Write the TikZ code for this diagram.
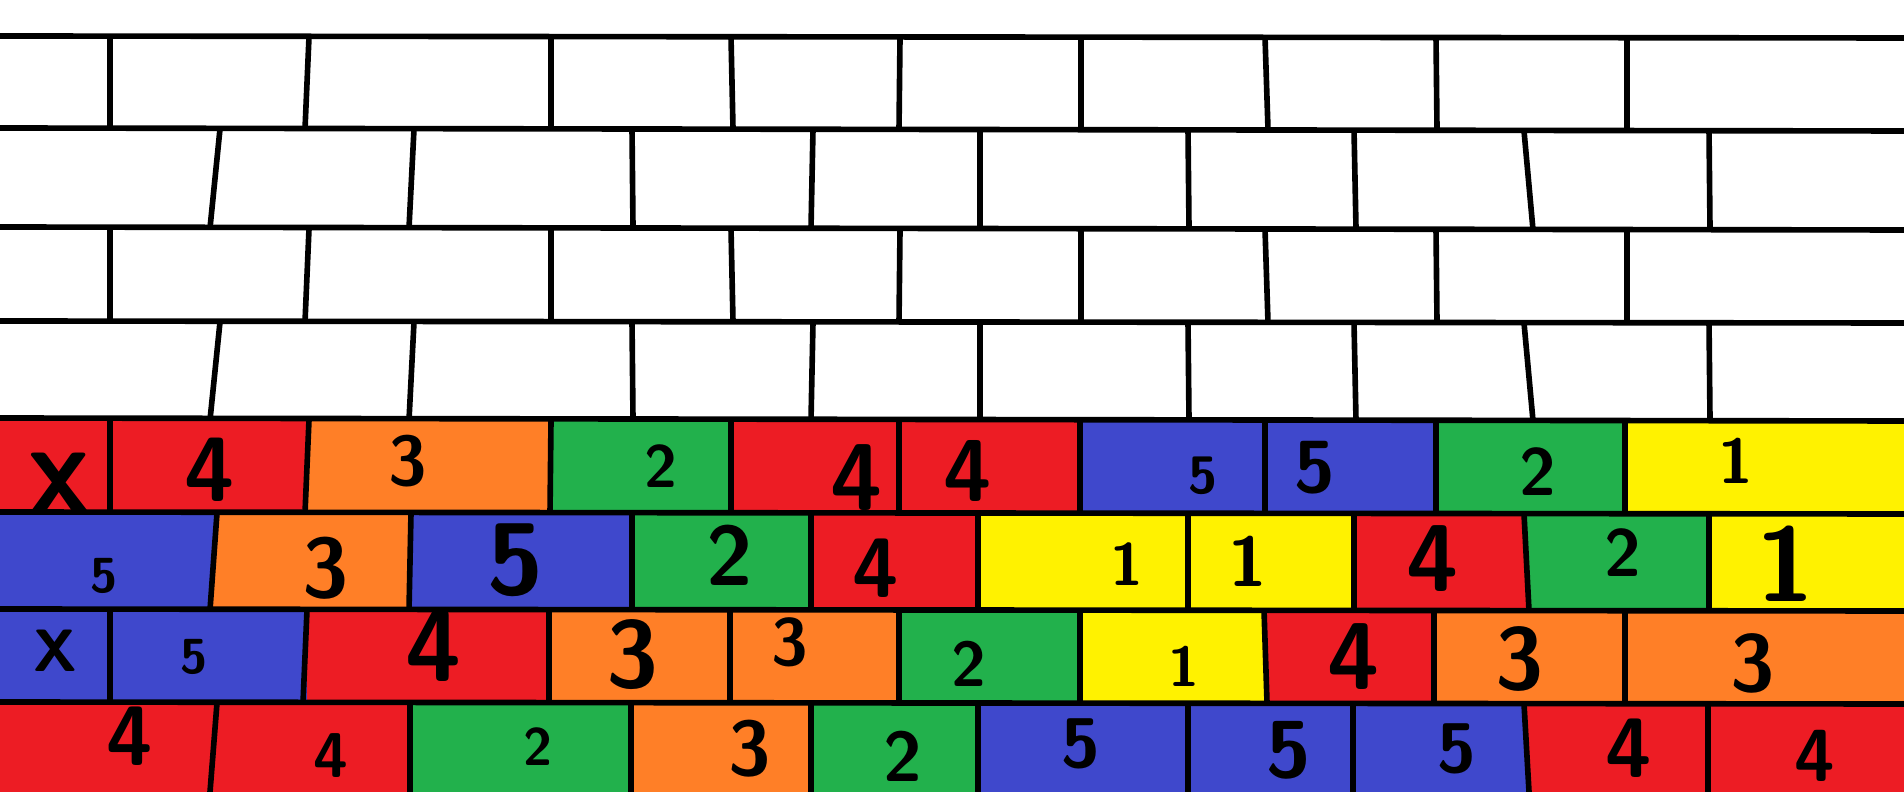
\documentclass[tikz,border=0pt]{standalone}
\usepackage{xcolor}
\usepackage{tikz}

\definecolor{bred}{HTML}{ED1C24}
\definecolor{borange}{HTML}{FF7F27}
\definecolor{bgreen}{HTML}{22B14C}
\definecolor{bblue}{HTML}{3F48CC}
\definecolor{byellow}{HTML}{FFF200}

\begin{document}
\begin{tikzpicture}[x=0.01cm, y=-0.01cm,
  mortar/.style={line width=1.6pt, black},
  num/.style={inner sep=0pt, font={\sffamily\bfseries\fontsize{#1}{#1}\selectfont}}]
  \useasboundingbox (0,0) rectangle (1904,792);

  % Row 5 (first coloured row)
  \fill[bred]    (0,419) rectangle (110,513);     \node[num=26] (b5-1) at (60,485) {X};
  \fill[bred]    (110,419) rectangle (307,513);   \node[num=26] (b5-2) at (210,470) {4};
  \fill[borange] (307,419) rectangle (551,513);   \node[num=20] (b5-3) at (408,461) {3};
  \fill[bgreen]  (551,419) rectangle (732,513);   \node[num=17] (b5-4) at (661,466) {2};
  \fill[bred]    (732,419) rectangle (900,513);   \node[num=27] (b5-5) at (857,478) {4};
  \fill[bred]    (900,419) rectangle (1081,513);  \node[num=25] (b5-6) at (968,471) {4};
  \fill[bblue]   (1081,419) rectangle (1266,513); \node[num=15] (b5-7) at (1203,476) {5};
  \fill[bblue]   (1266,419) rectangle (1436,513); \node[num=21] (b5-8) at (1315,468) {5};
  \fill[bgreen]  (1436,419) rectangle (1627,513); \node[num=19] (b5-9) at (1538,472) {2};
  \fill[byellow] (1627,419) rectangle (1904,513); \node[num=18] (b5-10) at (1736,461) {1};

  % Row 6
  \fill[bblue]   (0,513) -- (218,513) -- (210,610) -- (0,610) -- cycle;       \node[num=14] (b6-1) at (104,576) {5};
  \fill[borange] (218,513) -- (411,513) -- (411,610) -- (210,610) -- cycle;   \node[num=24] (b6-2) at (326,568) {3};
  \fill[bblue]   (411,513) rectangle (632,610);   \node[num=29] (b6-3) at (516,560) {5};
  \fill[bgreen]  (632,513) rectangle (812,610);   \node[num=24] (b6-4) at (730,555) {2};
  \fill[bred]    (812,513) rectangle (980,610);   \node[num=24] (b6-5) at (876,568) {4};
  \fill[byellow] (980,513) rectangle (1188,610);  \node[num=17] (b6-6) at (1127,564) {1};
  \fill[byellow] (1188,513) rectangle (1355,610); \node[num=20] (b6-7) at (1248,561) {1};
  \fill[bred]    (1355,513) rectangle (1527,610); \node[num=27] (b6-8) at (1433,559) {4};
  \fill[bgreen]  (1527,513) rectangle (1710,610); \node[num=19] (b6-9) at (1623,553) {2};
  \fill[byellow] (1710,513) rectangle (1904,610); \node[num=30] (b6-10) at (1785,564) {1};

  % Row 7
  \fill[bblue]   (0,610) rectangle (110,703);     \node[num=17] (b7-1) at (55,651) {X};
  \fill[bblue]   (110,610) rectangle (307,703);   \node[num=14] (b7-2) at (194,657) {5};
  \fill[bred]    (307,610) rectangle (551,703);   \node[num=29] (b7-3) at (434,646) {4};
  \fill[borange] (551,610) rectangle (732,703);   \node[num=27] (b7-4) at (633,655) {3};
  \fill[borange] (732,610) rectangle (900,703);   \node[num=19] (b7-5) at (790,642) {3};
  \fill[bgreen]  (900,610) rectangle (1081,703);  \node[num=18] (b7-6) at (969,664) {2};
  \fill[byellow] (1081,610) rectangle (1266,703); \node[num=16] (b7-7) at (1184,666) {1};
  \fill[bred]    (1266,610) rectangle (1436,703); \node[num=27] (b7-8) at (1354,657) {4};
  \fill[borange] (1436,610) rectangle (1627,703); \node[num=25] (b7-9) at (1520,659) {3};
  \fill[borange] (1627,610) rectangle (1904,703); \node[num=23] (b7-10) at (1753,663) {3};

  % Row 8 (bottom)
  \fill[bred]    (0,703) -- (218,703) -- (210,792) -- (0,792) -- cycle;       \node[num=24] (b8-1) at (130,736) {4};
  \fill[bred]    (218,703) -- (411,703) -- (411,792) -- (210,792) -- cycle;   \node[num=18] (b8-2) at (331,756) {4};
  \fill[bgreen]  (411,703) rectangle (632,792);   \node[num=15] (b8-3) at (538,747) {2};
  \fill[borange] (632,703) rectangle (812,792);   \node[num=22] (b8-4) at (750,749) {3};
  \fill[bgreen]  (812,703) rectangle (980,792);   \node[num=20] (b8-5) at (903,756) {2};
  \fill[bblue]   (980,703) rectangle (1188,792);  \node[num=20] (b8-6) at (1081,744) {5};
  \fill[bblue]   (1188,703) rectangle (1355,792); \node[num=23] (b8-7) at (1289,750) {5};
  \fill[bblue]   (1355,703) rectangle (1527,792); \node[num=20] (b8-8) at (1457,749) {5};
  \fill[bred]    (1527,703) rectangle (1710,792); \node[num=24] (b8-9) at (1629,748) {4};
  \fill[bred]    (1710,703) rectangle (1904,792); \node[num=21] (b8-10) at (1815,756) {4};

  % Horizontal joints
  \draw[mortar] (0,36) -- (1904,38);
  \draw[mortar] (0,128) -- (1904,131);
  \draw[mortar] (0,227) -- (1904,230);
  \draw[mortar] (0,321) -- (1904,323);
  \draw[mortar] (0,418) -- (1904,421);
  \draw[mortar] (0,512) -- (1904,514);
  \draw[mortar] (0,609) -- (1904,611);
  \draw[mortar] (0,702) -- (1904,704);

  % Vertical joints, rows 1, 3, 5, 7
  \draw[mortar] (110,37) -- (110,129) (110,229) -- (110,322) (110,420) -- (110,513) (110,610) -- (110,703);
  \draw[mortar] (309,37) -- (305,129) (309,229) -- (305,322) (309,420) -- (305,513) (307,610) -- (303,703);
  \draw[mortar] (551,37) -- (551,129) (551,229) -- (551,322) (551,420) -- (550,513) (549,610) -- (549,703);
  \draw[mortar] (731,37) -- (733,129) (731,229) -- (733,322) (731,420) -- (731,513) (730,610) -- (730,703);
  \draw[mortar] (900,37) -- (899,129) (900,229) -- (899,322) (899,420) -- (899,513) (899,610) -- (899,703);
  \draw[mortar] (1081,37) -- (1081,129) (1081,229) -- (1081,322) (1080,420) -- (1080,513) (1080,610) -- (1080,703);
  \draw[mortar] (1265,37) -- (1268,130) (1265,229) -- (1268,323) (1265,420) -- (1265,513) (1264,610) -- (1267,703);
  \draw[mortar] (1436,38) -- (1437,130) (1436,230) -- (1437,323) (1436,421) -- (1436,514) (1434,611) -- (1434,704);
  \draw[mortar] (1627,38) -- (1627,130) (1627,230) -- (1627,323) (1625,421) -- (1625,514) (1625,611) -- (1625,704);

  % Vertical joints, rows 2, 4, 6, 8
  \draw[mortar] (220,129) -- (210,228) (220,322) -- (210,420) (217,513) -- (210,610) (217,703) -- (210,792);
  \draw[mortar] (414,129) -- (409,228) (414,322) -- (409,420) (411,513) -- (409,610) (410,703) -- (410,792);
  \draw[mortar] (632,129) -- (633,228) (632,322) -- (633,420) (632,513) -- (632,610) (631,703) -- (631,792);
  \draw[mortar] (813,129) -- (811,228) (813,322) -- (811,420) (811,513) -- (811,610) (811,703) -- (811,792);
  \draw[mortar] (980,130) -- (980,229) (980,323) -- (980,421) (978,513) -- (978,610) (978,703) -- (978,792);
  \draw[mortar] (1188,130) -- (1189,229) (1188,323) -- (1189,421) (1188,513) -- (1188,610) (1188,703) -- (1188,792);
  \draw[mortar] (1354,130) -- (1356,229) (1354,323) -- (1356,421) (1354,513) -- (1354,610) (1353,703) -- (1353,792);
  \draw[mortar] (1524,131) -- (1533,230) (1524,323) -- (1533,421) (1524,514) -- (1529,611) (1524,704) -- (1529,792);
  \draw[mortar] (1709,131) -- (1710,230) (1709,323) -- (1710,421) (1709,514) -- (1709,611) (1708,704) -- (1708,792);
\end{tikzpicture}
\end{document}
